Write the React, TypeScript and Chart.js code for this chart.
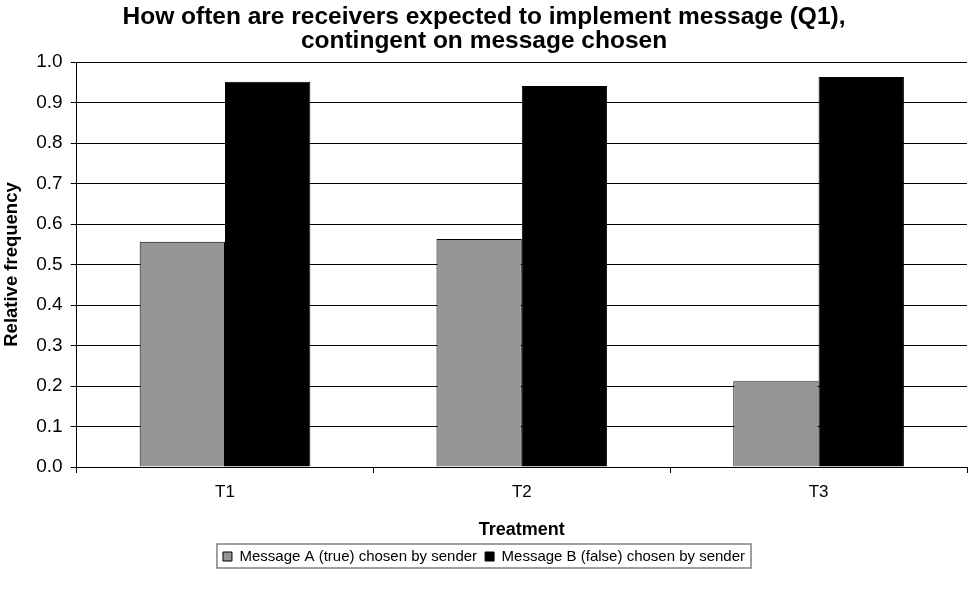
import { useEffect, useRef } from 'react';
import { Chart, registerables } from 'chart.js';

Chart.register(...registerables);

const categories = ['T1', 'T2', 'T3'];
const seriesNames = ['Message A (true) chosen by sender', 'Message B (false) chosen by sender'];
const messageA = [0.556, 0.563, 0.212];
const messageB = [0.951, 0.941, 0.963];
const titleLines = ['How often are receivers expected to implement message (Q1),', 'contingent on message chosen'];
const yAxisTitle = 'Relative frequency';
const xAxisTitle = 'Treatment';

const FONT = '"Liberation Sans", Arial, Helvetica, sans-serif';

const legendBoxPlugin = {
  id: 'legendBox',
  afterDraw(chart: any) {
    const lg = chart.legend;
    const hb = lg && lg.legendHitBoxes;
    if (!hb || !hb.length) return;
    let l = Infinity, r = -Infinity, t = Infinity, b = -Infinity;
    hb.forEach((h: any) => {
      l = Math.min(l, h.left);
      r = Math.max(r, h.left + h.width);
      t = Math.min(t, h.top);
      b = Math.max(b, h.top + h.height);
    });
    const ctx = chart.ctx;
    ctx.save();
    ctx.strokeStyle = '#808080';
    ctx.lineWidth = 1.5;
    ctx.strokeRect(l - 6, t - 5, r - l + 12, b - t + 9);
    ctx.restore();
  },
};

export default function App() {
  const ref = useRef<HTMLCanvasElement | null>(null);

  useEffect(() => {
    if (!ref.current) return;
    const chart = new Chart(ref.current, {
      type: 'bar',
      data: {
        labels: categories,
        datasets: [
          {
            label: seriesNames[0],
            data: messageA,
            backgroundColor: '#969696',
            borderColor: '#000000',
            borderWidth: 1,
          },
          {
            label: seriesNames[1],
            data: messageB,
            backgroundColor: '#000000',
            borderColor: '#000000',
            borderWidth: 1,
          },
        ],
      },
      options: {
        animation: false,
        responsive: true,
        maintainAspectRatio: false,
        layout: { padding: { top: 0, right: 1, bottom: 28, left: 1 } },
        plugins: {
          title: {
            display: true,
            text: titleLines,
            color: '#000',
            font: { family: FONT, size: 24.5, weight: 'bold', lineHeight: 0.98 },
            padding: { top: 5, bottom: 9 },
          },
          tooltip: { enabled: false },
          legend: {
            display: true,
            position: 'bottom',
            labels: {
              color: '#000',
              font: { family: FONT, size: 15 },
              boxWidth: 9,
              boxHeight: 9,
              padding: 8,
            },
          },
        },
        datasets: {
          bar: { categoryPercentage: 0.575, barPercentage: 1.0 },
        },
        scales: {
          x: {
            grid: {
              display: true,
              offset: true,
              drawOnChartArea: false,
              tickLength: 6,
              tickColor: '#000',
              color: '#000',
            },
            border: { display: true, color: '#000', width: 1 },
            ticks: {
              color: '#000',
              font: { family: FONT, size: 17 },
              padding: 9,
            },
            title: {
              display: true,
              text: xAxisTitle,
              color: '#000',
              font: { family: FONT, size: 18, weight: 'bold' },
              padding: { top: 8, bottom: 0 },
            },
          },
          y: {
            min: 0,
            max: 1,
            grid: {
              color: '#000',
              lineWidth: 1,
              tickLength: 6,
              tickColor: '#000',
            },
            border: { display: true, color: '#000', width: 1 },
            ticks: {
              stepSize: 0.1,
              color: '#000',
              font: { family: FONT, size: 19 },
              padding: 8,
              callback: (v: any) => Number(v).toFixed(1),
            },
            title: {
              display: true,
              text: yAxisTitle,
              color: '#000',
              font: { family: FONT, size: 18.5, weight: 'bold' },
              padding: { top: 0, bottom: 5 },
            },
          },
        },
      },
      plugins: [legendBoxPlugin],
    });
    return () => chart.destroy();
  }, []);

  return (
    <div style={{ position: 'fixed', left: 0, top: 0, width: 968, height: 602, background: '#fff' }}>
      <canvas ref={ref} />
    </div>
  );
}
